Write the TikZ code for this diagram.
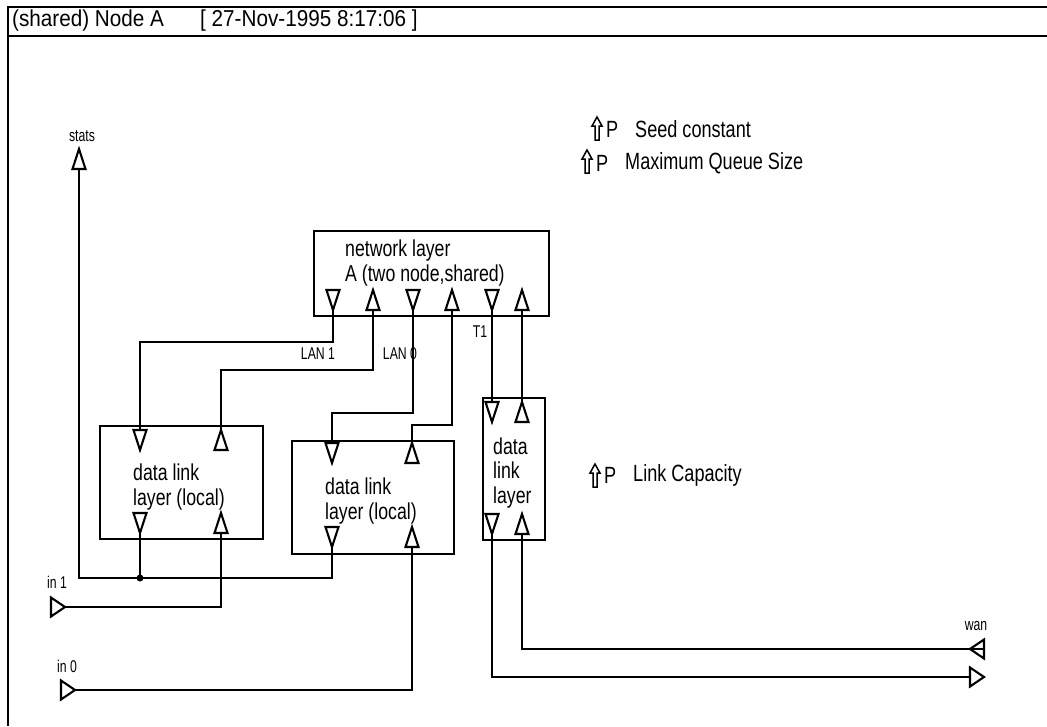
\documentclass[tikz,border=0pt]{standalone}
\usepackage{fontspec}
\setmainfont{Liberation Sans}
\newfontfamily\condfont[FakeStretch=0.77]{Liberation Sans}
\newfontfamily\smallfont[FakeStretch=0.72]{Liberation Sans}
\newfontfamily\headfont[FakeStretch=0.9]{Liberation Sans}
\begin{document}
\begin{tikzpicture}[x=1pt,y=-1pt,
  frame/.style={line width=1.7pt},
  wire/.style={line width=1.8pt},
  box/.style={draw, line width=1.7pt, anchor=north west, inner sep=0pt},
  port/.style={draw, line width=2.1pt, line join=miter},
  boxtext/.style={font=\condfont\fontsize{23}{24.5}\selectfont, align=left, anchor=west, inner sep=0pt},
  small/.style={font=\smallfont\fontsize{17}{18}\selectfont, inner sep=0pt},
  ptext/.style={font=\condfont\fontsize{23.5}{24}\selectfont, anchor=west, inner sep=0pt},
  head/.style={font=\headfont\fontsize{23}{24}\selectfont, anchor=west, inner sep=0pt},
  dot/.style={circle, fill, inner sep=0pt, minimum size=7pt},
  pics/pdn/.style={code={\draw[port] (-6.5,-10)--(6.5,-10)--(0,10)--cycle;
     \coordinate (-top) at (0,-10); \coordinate (-bot) at (0,10);}},
  pics/pup/.style={code={\draw[port] (-6.5,10)--(6.5,10)--(0,-10)--cycle;
     \coordinate (-top) at (0,-10); \coordinate (-bot) at (0,10);}},
  pics/prt/.style={code={\draw[port] (-7,-9.5)--(-7,9.5)--(7,0)--cycle;
     \coordinate (-l) at (-7,0); \coordinate (-r) at (7,0);}},
  pics/plt/.style={code={\draw[port] (7,-9.5)--(7,9.5)--(-7,0)--cycle;
     \coordinate (-l) at (-7,0); \coordinate (-r) at (7,0);}},
  pics/parr/.style={code={\draw[line width=1.5pt, line join=miter]
     (-2,0)--(-2,-14)--(-5,-14)--(0,-23)--(5,-14)--(2,-14)--(2,0)--cycle;}},
]
\useasboundingbox (0,0) rectangle (1047,726);
% frame
\draw[frame] (1047,7) -- (8,7) -- (8,726);
\draw[frame] (8,36) -- (1047,36);
\node[head] (title) at (12,21) {(shared) Node A};
\node[head] (date) at (200,21) {[ 27-Nov-1995 8:17:06 ]};

% parameters
\pic at (597,140) {parr};
\node[ptext] (p1) at (606,129) {P};
\node[ptext] (seed) at (635,129) {Seed constant};
\pic at (587,173) {parr};
\node[ptext] (p2) at (596,163) {P};
\node[ptext] (mqs) at (625,163) {Maximum Queue Size};
\pic at (595,487) {parr};
\node[ptext] (p3) at (604,475) {P};
\node[ptext] (lcap) at (633,475) {Link Capacity};

% boxes
\node[box, minimum width=235pt, minimum height=85pt] (net) at (313,230) {};
\node[boxtext] (nettext) at (345,263) {network layer\\A (two node,shared)};
\node[box, minimum width=163pt, minimum height=113pt] (dl1) at (99,425) {};
\node[boxtext] (dl1text) at (133,487) {data link\\layer (local)};
\node[box, minimum width=162pt, minimum height=113pt] (dl2) at (291,440) {};
\node[boxtext] (dl2text) at (325,501) {data link\\layer (local)};
\node[box, minimum width=62pt, minimum height=142pt] (dl3) at (482,397) {};
\node[boxtext] (dl3text) at (493,473) {data\\link\\layer};

% ports
\pic (n1) at (333,300) {pdn};
\pic (n2) at (373,300) {pup};
\pic (n3) at (413,300) {pdn};
\pic (n4) at (452,300) {pup};
\pic (n5) at (492,300) {pdn};
\pic (n6) at (522,300) {pup};
\pic (a1) at (140,440) {pdn};
\pic (a2) at (221,440) {pup};
\pic (a3) at (140,523) {pdn};
\pic (a4) at (221,523) {pup};
\pic (b1) at (332,453) {pdn};
\pic (b2) at (412,453) {pup};
\pic (b3) at (332,537) {pdn};
\pic (b4) at (412,537) {pup};
\pic (c1) at (492,412) {pdn};
\pic (c2) at (522,412) {pup};
\pic (c3) at (492,524) {pdn};
\pic (c4) at (522,524) {pup};
\pic (s) at (79,159) {pup};
\pic (i1) at (58,607) {prt};
\pic (i0) at (68,690) {prt};
\pic (w1) at (977,649) {plt};
\pic (w2) at (977,677) {prt};

% labels
\node[small] (stats) at (82,136) {stats};
\node[small] (in1) at (57,582) {in 1};
\node[small] (in0) at (67,666) {in 0};
\node[small] (wan) at (976,626) {wan};
\node[small] (lan1) at (318,354) {LAN 1};
\node[small] (lan0) at (400,354) {LAN 0};
\node[small] (t1) at (480,332) {T1};

% wires
\draw[wire] (n1-bot) -- ++(0,32) -| (a1-top);
\draw[wire] (n2-bot) -- ++(0,60) -| (a2-top);
\draw[wire] (n3-bot) -- ++(0,103) -| (b1-top);
\draw[wire] (n4-bot) -- ++(0,115) -| (b2-top);
\draw[wire] (n5-bot) -- (c1-top);
\draw[wire] (n6-bot) -- (c2-top);
\node[dot] (j) at (140,578) {};
\draw[wire] (b3-bot) -- ++(0,31) -| (s-bot);
\draw[wire] (a3-bot) -- (j.center);
\draw[wire] (i1-r) -| (a4-bot);
\draw[wire] (i0-r) -| (b4-bot);
\draw[wire] (c3-bot) |- (w2-l);
\draw[wire] (c4-bot) |- (w1-r);
\end{tikzpicture}
\end{document}
